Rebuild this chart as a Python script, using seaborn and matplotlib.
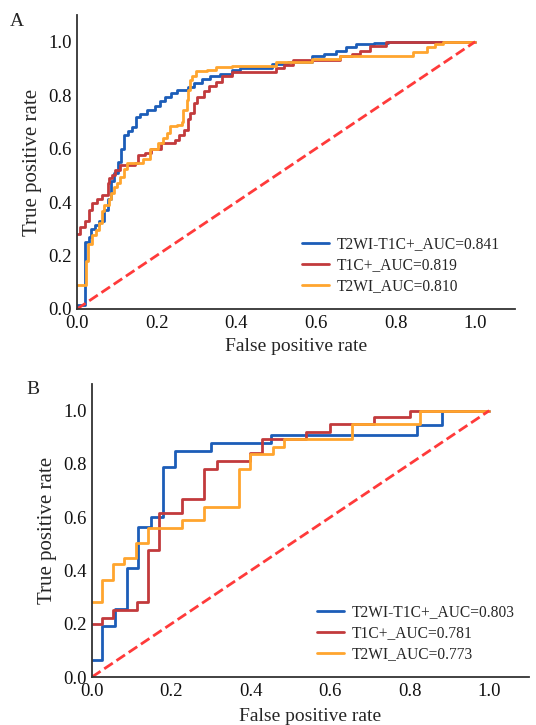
import matplotlib
matplotlib.use("Agg")
import matplotlib.pyplot as plt
import seaborn as sns
import pandas as pd

# ---- data (step points: fpr where a level starts, tpr level) ----
a_blue_fpr = [0.000, 0.020, 0.030, 0.036, 0.045, 0.055, 0.068, 0.078, 0.085, 0.093, 0.102, 0.110,
              0.118, 0.128, 0.138, 0.148, 0.158, 0.175, 0.195, 0.208, 0.222, 0.235, 0.250, 0.280,
              0.295, 0.315, 0.335, 0.360, 0.390, 0.410, 0.490, 0.530, 0.590, 0.620, 0.650, 0.675,
              0.700, 0.745, 0.780, 1.000]
a_blue_tpr = [0.015, 0.25, 0.27, 0.30, 0.315, 0.33, 0.37, 0.41, 0.48, 0.51, 0.55, 0.60,
              0.65, 0.665, 0.68, 0.72, 0.73, 0.745, 0.76, 0.78, 0.795, 0.81, 0.82, 0.83,
              0.845, 0.86, 0.87, 0.88, 0.895, 0.90, 0.915, 0.925, 0.945, 0.955, 0.965, 0.98,
              0.99, 0.995, 1.0, 1.0]

a_red_fpr = [0.000, 0.008, 0.020, 0.030, 0.037, 0.050, 0.062, 0.077, 0.080, 0.088, 0.096, 0.108,
             0.146, 0.154, 0.170, 0.185, 0.210, 0.245, 0.255, 0.268, 0.280, 0.285, 0.293, 0.302,
             0.318, 0.332, 0.348, 0.365, 0.390, 0.500, 0.520, 0.543, 0.660, 0.690, 0.710, 0.735,
             0.775, 1.000]
a_red_tpr = [0.28, 0.305, 0.33, 0.37, 0.395, 0.41, 0.425, 0.47, 0.49, 0.50, 0.52, 0.54,
             0.545, 0.575, 0.583, 0.60, 0.62, 0.633, 0.65, 0.67, 0.71, 0.735, 0.77, 0.795,
             0.815, 0.833, 0.85, 0.87, 0.885, 0.90, 0.913, 0.93, 0.945, 0.955, 0.965, 0.985,
             1.0, 1.0]

a_orange_fpr = [0.000, 0.022, 0.028, 0.038, 0.048, 0.056, 0.063, 0.068, 0.080, 0.085, 0.093, 0.100,
                0.108, 0.117, 0.126, 0.165, 0.183, 0.204, 0.217, 0.225, 0.234, 0.250, 0.263, 0.267,
                0.276, 0.280, 0.284, 0.288, 0.300, 0.326, 0.350, 0.390, 0.500, 0.590, 0.660, 0.845,
                0.878, 0.900, 0.920, 1.000]
a_orange_tpr = [0.09, 0.18, 0.245, 0.275, 0.295, 0.32, 0.365, 0.39, 0.41, 0.435, 0.455, 0.47,
                0.495, 0.525, 0.545, 0.56, 0.60, 0.62, 0.64, 0.66, 0.683, 0.69, 0.70, 0.745,
                0.783, 0.82, 0.858, 0.873, 0.889, 0.895, 0.905, 0.91, 0.925, 0.935, 0.945, 0.962,
                0.98, 0.99, 1.0, 1.0]

b_blue_fpr = [0, 0.025, 0.059, 0.088, 0.117, 0.148, 0.178, 0.21, 0.30, 0.45, 0.817, 0.88, 1.0]
b_blue_tpr = [0.065, 0.19, 0.255, 0.41, 0.565, 0.60, 0.79, 0.85, 0.88, 0.91, 0.945, 1.0, 1.0]

b_red_fpr = [0, 0.025, 0.054, 0.113, 0.142, 0.168, 0.226, 0.282, 0.314, 0.397, 0.428, 0.539,
             0.60, 0.71, 0.80, 1.0]
b_red_tpr = [0.20, 0.223, 0.253, 0.28, 0.477, 0.615, 0.67, 0.78, 0.81, 0.84, 0.893, 0.918,
             0.95, 0.976, 1.0, 1.0]

b_orange_fpr = [0, 0.025, 0.053, 0.081, 0.111, 0.14, 0.226, 0.282, 0.369, 0.398, 0.455, 0.484,
                0.654, 0.826, 1.0]
b_orange_tpr = [0.28, 0.366, 0.423, 0.448, 0.504, 0.56, 0.59, 0.64, 0.78, 0.837, 0.862, 0.893,
                0.95, 1.0, 1.0]

labels_a = ["T2WI-T1C+_AUC=0.841", "T1C+_AUC=0.819", "T2WI_AUC=0.810"]
labels_b = ["T2WI-T1C+_AUC=0.803", "T1C+_AUC=0.781", "T2WI_AUC=0.773"]
ticks = [0.0, 0.2, 0.4, 0.6, 0.8, 1.0]

colors = ["#1c5db8", "#c23a3c", "#ffa52e"]
diag_color = "#ff3a3a"

sns.set_theme(style="ticks")
plt.rcParams["font.family"] = ["Liberation Serif", "DejaVu Serif"]

fig = plt.figure(figsize=(5.36, 7.25), dpi=100)
ax_a = fig.add_axes([77 / 536, 1 - 309 / 725, 438 / 536, 294 / 725])
ax_b = fig.add_axes([92 / 536, 1 - 677 / 725, 437 / 536, 293 / 725])


def draw_panel(ax, curves, labels, leg_anchor):
    for (fpr, tpr), lab, col in zip(curves, labels, colors):
        df = pd.DataFrame({"fpr": fpr, "tpr": tpr})
        sns.lineplot(data=df, x="fpr", y="tpr", ax=ax, color=col, linewidth=2.0,
                     drawstyle="steps-post", estimator=None, label=lab)
    sns.lineplot(x=[0, 1], y=[0, 1], ax=ax, color=diag_color, linestyle="--",
                 linewidth=2.0, estimator=None)
    ax.set_xlim(0, 1.1)
    ax.set_ylim(0, 1.1)
    ax.set_xticks(ticks)
    ax.set_yticks(ticks)
    ax.set_xticklabels([f"{t:.1f}" for t in ticks])
    ax.set_yticklabels([f"{t:.1f}" for t in ticks])
    ax.tick_params(axis="both", labelsize=13.5, length=0, pad=4, labelcolor="#111111")
    for side in ["top", "right"]:
        ax.spines[side].set_visible(False)
    for side in ["left", "bottom"]:
        ax.spines[side].set_linewidth(1.3)
        ax.spines[side].set_color("#333333")
    ax.set_xlabel("False positive rate", fontsize=14)
    ax.set_ylabel("True positive rate", fontsize=15)
    ax.legend(loc="upper left", bbox_to_anchor=leg_anchor, frameon=False, fontsize=11.2,
              handlelength=1.75, handletextpad=0.5, labelspacing=0.32, borderpad=0,
              borderaxespad=0)


draw_panel(ax_a, [(a_blue_fpr, a_blue_tpr), (a_red_fpr, a_red_tpr), (a_orange_fpr, a_orange_tpr)],
           labels_a, ((302 - 77) / 438, (309 - 236) / 294))
draw_panel(ax_b, [(b_blue_fpr, b_blue_tpr), (b_red_fpr, b_red_tpr), (b_orange_fpr, b_orange_tpr)],
           labels_b, ((317 - 92) / 437, (677 - 604) / 293))

ax_a.xaxis.labelpad = 5
ax_b.xaxis.labelpad = 6

fig.text(17 / 536, 1 - 22 / 725, "A", fontsize=14, ha="center", va="center")
fig.text(33 / 536, 1 - 390 / 725, "B", fontsize=14, ha="center", va="center")

fig.savefig("out.png", dpi=100)
